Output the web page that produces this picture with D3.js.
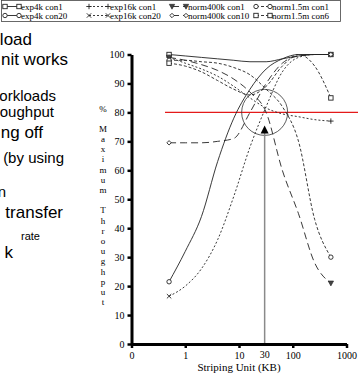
<!DOCTYPE html>
<html>
<head>
<meta charset="utf-8">
<script src="https://cdn.jsdelivr.net/npm/d3@7"></script>
<style>
  body { margin: 0; background: #fff; }
  svg { display: block; }
  .serif { font-family: "Liberation Serif", "Times New Roman", serif; fill: #000; }
  .slide { font-family: "Liberation Sans", Arial, sans-serif; fill: #000; }
</style>
</head>
<body>
<svg id="chart" width="358" height="377"></svg>
<script>
// striping unit sizes (KB) sampled by every curve
const stripeKB = [0.5, 1, 2, 4, 8, 16, 32, 64, 128, 256, 512];

// % of maximum throughput
const exp4kCon1 = [100, 99.5, 99, 98.5, 98, 97.5, 97.5, 98.5, 99.5, 100, 100];
const exp4kCon20 = [21.5, 32, 44, 63, 78, 88, 95, 98.5, 100, 100, 100];
const exp16kCon1 = [99, 97, 95, 92.5, 89, 85, 81.5, 79.5, 78.5, 77.5, 77];
const exp16kCon20 = [16.5, 20, 26, 36, 51, 68, 82, 94, 99, 100, 100];
const norm400kCon1 = [99, 98, 96.5, 94.5, 91.5, 87, 80, 60, 45, 28, 21];
const norm400kCon10 = [69.5, 69.5, 69.5, 70, 71, 80, 90, 97, 99.5, 100, 100];
const norm15mCon1 = [98, 98, 97.5, 97, 95.5, 93, 88, 82, 70, 43, 30];
const norm15mCon6 = [97, 96, 94, 91, 88, 86, 89, 96, 100, 96, 85];

const seriesNames = ["exp4k con1", "exp16k con1", "norm400k con1", "norm1.5m con1",
                     "exp4k con20", "exp16k con20", "norm400k con10", "norm1.5m con6"];

const xTickValues = [0.1, 1, 10, 100, 1000];
const xTickLabels = ["0", "1", "10", "100", "1000"];
const yTickValues = [0, 10, 20, 30, 40, 50, 60, 70, 80, 90, 100];
const chosenUnit = 30;      // KB, marked by the arrow
const targetLevel = 80;     // % line in red

const slideLines = ["load", "nit works", "orkloads", "oughput", "ng off",
                    "(by using", "n", "transfer", "rate", "k"];

const series = [
  { name: "exp4k con1", values: exp4kCon1, dash: null, mark: "square" },
  { name: "exp4k con20", values: exp4kCon20, dash: null, mark: "circle" },
  { name: "exp16k con1", values: exp16kCon1, dash: "2,2", mark: "plus" },
  { name: "exp16k con20", values: exp16kCon20, dash: "2,2", mark: "cross" },
  { name: "norm400k con1", values: norm400kCon1, dash: "7,4", mark: "triangle" },
  { name: "norm400k con10", values: norm400kCon10, dash: "7,4", mark: "diamond" },
  { name: "norm1.5m con1", values: norm15mCon1, dash: "3,2", mark: "circle" },
  { name: "norm1.5m con6", values: norm15mCon6, dash: "3,2", mark: "square" }
];
const byName = new Map(series.map(s => [s.name, s]));

const svg = d3.select("#chart");

const x = d3.scaleLog().domain([0.1, 1000]).range([131.5, 346.5]);
const y = d3.scaleLinear().domain([0, 100]).range([344, 54.5]);

// ---- slide text cut off on the left  [baseline, size, right edge]
const slideSpec = [
  [45, 17, 32], [65, 17, 68], [101, 15, 56], [117, 15, 54], [138, 17, 43],
  [163, 15, 64], [197, 15, 6], [218, 17, 63], [240, 11, 40], [258, 17, 13]
];
svg.append("g").selectAll("text")
  .data(slideLines)
  .join("text")
  .attr("class", "slide")
  .attr("text-anchor", "end")
  .attr("x", (d, i) => slideSpec[i][2])
  .attr("y", (d, i) => slideSpec[i][0])
  .attr("font-size", (d, i) => slideSpec[i][1])
  .text(d => d);

// ---- marker drawing
function drawMark(g, kind, cx, cy) {
  const s = 2.2;
  if (kind === "square") {
    g.append("rect").attr("x", cx - s).attr("y", cy - s).attr("width", 2 * s).attr("height", 2 * s)
      .attr("fill", "#fff").attr("stroke", "#222").attr("stroke-width", 0.9);
  } else if (kind === "circle") {
    g.append("circle").attr("cx", cx).attr("cy", cy).attr("r", s)
      .attr("fill", "#fff").attr("stroke", "#222").attr("stroke-width", 0.9);
  } else if (kind === "plus") {
    g.append("path").attr("d", `M${cx - s - 0.5},${cy}H${cx + s + 0.5}M${cx},${cy - s - 0.5}V${cy + s + 0.5}`)
      .attr("stroke", "#222").attr("stroke-width", 0.9);
  } else if (kind === "cross") {
    g.append("path").attr("d", `M${cx - s},${cy - s}L${cx + s},${cy + s}M${cx - s},${cy + s}L${cx + s},${cy - s}`)
      .attr("stroke", "#222").attr("stroke-width", 0.9);
  } else if (kind === "triangle") {
    g.append("path").attr("d", `M${cx - s - 0.5},${cy - s}H${cx + s + 0.5}L${cx},${cy + s + 0.5}Z`)
      .attr("fill", "#444").attr("stroke", "#222").attr("stroke-width", 0.6);
  } else if (kind === "diamond") {
    g.append("path").attr("d", `M${cx},${cy - s}L${cx + s},${cy}L${cx},${cy + s}L${cx - s},${cy}Z`)
      .attr("fill", "#fff").attr("stroke", "#222").attr("stroke-width", 0.9);
  }
}

// ---- legend
const legend = svg.append("g").attr("class", "serif");
legend.append("rect").attr("x", 1.5).attr("y", 0.5).attr("width", 339).attr("height", 21)
  .attr("fill", "#fff").attr("stroke", "#444").attr("stroke-width", 0.8);
const colX = [5, 89, 172, 256];
seriesNames.forEach((name, i) => {
  const s = byName.get(name);
  const x0 = colX[i % 4];
  const yy = i < 4 ? 6.5 : 15.5;
  const len = i % 4 === 1 ? 19 : 14;
  legend.append("line").attr("x1", x0).attr("x2", x0 + len).attr("y1", yy).attr("y2", yy)
    .attr("stroke", "#222").attr("stroke-width", 0.9).attr("stroke-dasharray", s.dash);
  drawMark(legend, s.mark, x0, yy);
  drawMark(legend, s.mark, x0 + len, yy);
  legend.append("text").attr("x", x0 + len + 2).attr("y", yy + 3).attr("font-size", 9).text(name);
});

// ---- target line and chosen unit
svg.append("line").attr("x1", 165).attr("x2", 358)
  .attr("y1", y(targetLevel)).attr("y2", y(targetLevel))
  .attr("stroke", "#e41a1a").attr("stroke-width", 1.2);

svg.append("circle").attr("cx", x(chosenUnit)).attr("cy", y(targetLevel)).attr("r", 23)
  .attr("fill", "none").attr("stroke", "#333").attr("stroke-width", 0.8);

// ---- curves
const line = d3.line()
  .x((d, i) => x(stripeKB[i]))
  .y(d => y(d))
  .curve(d3.curveMonotoneX);

const plot = svg.append("g");
series.forEach(s => {
  plot.append("path").datum(s.values).attr("d", line)
    .attr("fill", "none").attr("stroke", "#222").attr("stroke-width", 0.9)
    .attr("stroke-dasharray", s.dash);
});
series.forEach(s => {
  const last = s.values.length - 1;
  drawMark(plot, s.mark, x(stripeKB[0]), y(s.values[0]));
  drawMark(plot, s.mark, x(stripeKB[last]), y(s.values[last]));
});

// arrow at chosen unit
svg.append("line").attr("x1", x(chosenUnit)).attr("x2", x(chosenUnit))
  .attr("y1", y(0)).attr("y2", y(74))
  .attr("stroke", "#8a8a8a").attr("stroke-width", 1.5);
const ax = x(chosenUnit), ay = y(75.5);
svg.append("path").attr("d", `M${ax},${ay}L${ax + 4},${ay + 8}L${ax - 4},${ay + 8}Z`).attr("fill", "#000");

// ---- axes
const yAxis = svg.append("g").attr("class", "serif")
  .attr("transform", `translate(${x.range()[0]},0)`)
  .call(d3.axisLeft(y).tickValues(yTickValues).tickSize(4).tickSizeOuter(0).tickPadding(3));
yAxis.select(".domain").attr("stroke-width", 3);
yAxis.selectAll(".tick line").attr("stroke-width", 2.5);
yAxis.selectAll("text").attr("font-size", 10).attr("fill", "#000");

const xAxis = svg.append("g").attr("class", "serif")
  .attr("transform", `translate(0,${y(0)})`)
  .call(d3.axisBottom(x).tickValues(xTickValues).tickFormat((d, i) => xTickLabels[i])
    .tickSize(4).tickSizeOuter(0).tickPadding(4));
xAxis.select(".domain").attr("stroke-width", 3);
xAxis.selectAll(".tick line").attr("stroke-width", 2.5);
xAxis.selectAll("text").attr("font-size", 10).attr("fill", "#000");

svg.append("text").attr("class", "serif").attr("x", x(chosenUnit)).attr("y", 358)
  .attr("text-anchor", "middle").attr("font-size", 10).text(String(chosenUnit));

svg.append("text").attr("class", "serif").attr("x", 239).attr("y", 371)
  .attr("text-anchor", "middle").attr("font-size", 11).text("Striping Unit (KB)");

// vertical stacked y title, one text running top to bottom
svg.append("text").attr("class", "serif")
  .attr("x", 103).attr("y", 103.5)
  .attr("font-size", 9)
  .style("writing-mode", "vertical-rl")
  .style("text-orientation", "upright")
  .style("letter-spacing", "0.2px")
  .text("% Maximum Throughput");
</script>
</body>
</html>
